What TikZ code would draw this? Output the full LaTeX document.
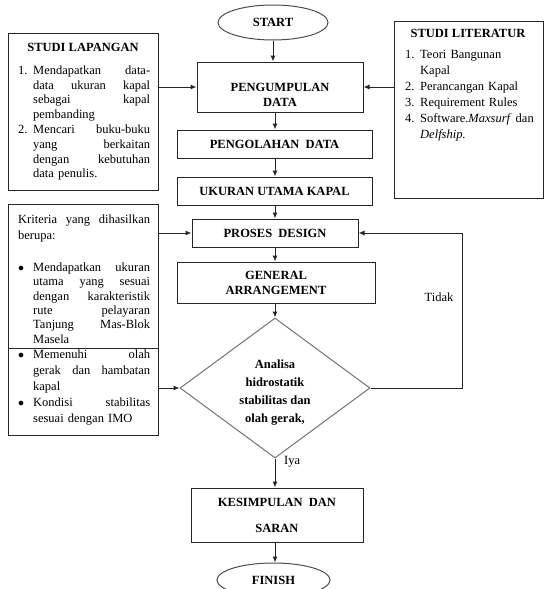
\documentclass[tikz,border=0pt]{standalone}
\usepackage{fontspec}
\setmainfont{Liberation Serif}
\usetikzlibrary{shapes.geometric,arrows.meta,calc}
% first line of a justified item (words separated by \hfill)
\newcommand{\fl}[2]{\noindent\makebox[15pt][l]{#1}\hbox to 117pt{#2}\par}
% first line of a ragged item
\newcommand{\rl}[2]{\noindent\makebox[15pt][l]{#1}#2\par}
% continuation line, justified
\newcommand{\jl}[1]{\noindent\hspace*{15pt}\hbox to 117pt{#1}\par}
% last (ragged) line
\newcommand{\lastl}[1]{\noindent\hspace*{15pt}#1\par}
\newcommand{\bodyfont}{\fontsize{12.5}{15}\selectfont}
\begin{document}
\begin{tikzpicture}[x=1pt,y=-1pt,
  box/.style={draw=black!85,line width=1pt,inner sep=0pt,align=center,
    font=\fontsize{12.5}{15}\selectfont\bfseries},
  boxtext/.style={inner sep=0pt,align=center,font=\fontsize{12.5}{15}\selectfont\bfseries},
  term/.style={draw=black!70,line width=1pt,ellipse,inner sep=0pt,
    font=\fontsize{12.5}{15}\selectfont\bfseries},
  side/.style={draw=black!85,line width=1pt,inner sep=0pt},
  body/.style={inner sep=0pt,font=\bodyfont},
  arr/.style={-{Latex[length=6pt,width=5pt]},line width=1pt,draw=black!85},
  ]
\useasboundingbox (0,0) rectangle (544,589);
\coordinate (col) at (275,0);
\coordinate (loop) at (462,0);
% main column
\node[term,minimum width=110,minimum height=35] (start) at (273,22.5) {START};
\node[box,minimum width=166,minimum height=50] (pd) at (280,87) {};
\node[boxtext] (pdtx) at (280,95) {PENGUMPULAN\\DATA};
\node[box,minimum width=195,minimum height=28] (olah) at (274.5,144) {PENGOLAHAN\ \ DATA};
\node[box,minimum width=195,minimum height=28] (uk) at (274.5,191) {UKURAN UTAMA KAPAL};
\node[box,minimum width=166,minimum height=28] (pros) at (275,233) {PROSES\ \ DESIGN};
\node[box,minimum width=198,minimum height=41] (ga) at (276,282.5) {GENERAL\\ARRANGEMENT};
\node[diamond,draw=black!55,line width=1pt,minimum width=190,minimum height=140,
  aspect=1.357,inner sep=0pt] (dia) at (275,388) {};
\node[boxtext,font=\fontsize{12.5}{18}\selectfont\bfseries] (diatx) at (275,393)
  {Analisa\\hidrostatik\\stabilitas dan\\olah gerak,};
\node[box,minimum width=172,minimum height=54,
  font=\fontsize{12.5}{26}\selectfont\bfseries] (kes) at (277,515) {KESIMPULAN\ \ DAN\\SARAN};
\node[term,minimum width=113,minimum height=34] (fin) at (273.5,580) {FINISH};
% studi lapangan
\node[side,minimum width=150,minimum height=157] (sl) at (83,111.5) {};
\node[boxtext] (slt) at (83,47) {STUDI LAPANGAN};
\node[body,anchor=north west,text width=132] (sltx) at (18,65.5)
  {\fontsize{12.5}{14.8}\selectfont
   \fl{1.}{Mendapatkan\hfill data-}
   \jl{data\hfill ukuran\hfill kapal}
   \jl{sebagai\hfill kapal}
   \lastl{pembanding}
   \fl{2.}{Mencari\hfill buku-buku}
   \jl{yang\hfill berkaitan}
   \jl{dengan\hfill kebutuhan}
   \lastl{data penulis.}};
% studi literatur
\node[side,minimum width=149,minimum height=177] (lit) at (468.5,109.5) {};
\node[boxtext] (litt) at (468,33) {STUDI LITERATUR};
\node[body,anchor=north west,text width=135] (littx) at (405,50)
  {\fontsize{12.5}{16}\selectfont
   \rl{1.}{Teori Bangunan}
   \lastl{Kapal}
   \rl{2.}{Perancangan Kapal}
   \rl{3.}{Requirement Rules}
   \rl{4.}{Software.\textit{Maxsurf} dan}
   \lastl{\textit{Delfship.}}};
% kriteria
\node[side,minimum width=150,minimum height=231] (krit) at (83,319.5) {};
\draw[line width=1pt,draw=black!85] (krit.west |- 0,348) -- (krit.east |- 0,348);
\node[body,anchor=north west,text width=132] (kr1) at (18,214.5)
  {\fontsize{12.5}{16}\selectfont
   \noindent\hbox to 132pt{Kriteria\hfill yang\hfill dihasilkan}\par
   \noindent berupa:\par
   \fontsize{12.5}{14.4}\selectfont\vspace{17.6pt}
   \fl{$\bullet$}{Mendapatkan\hfill ukuran}
   \jl{utama\hfill yang\hfill sesuai}
   \jl{dengan\hfill karakteristik}
   \jl{rute\hfill pelayaran}
   \jl{Tanjung\hfill Mas-Blok}
   \lastl{Masela}};
\node[body,anchor=north west,text width=132] (kr2) at (18,349.5)
  {\fontsize{12.5}{16}\selectfont
   \fl{$\bullet$}{Memenuhi\hfill olah}
   \jl{gerak\hfill dan\hfill hambatan}
   \lastl{kapal}
   \fl{$\bullet$}{Kondisi\hfill stabilitas}
   \lastl{sesuai dengan IMO}};
% labels
\node[body,anchor=west] (iya) at (284,462) {Iya};
\node[body] (tidak) at (439,297) {Tidak};
% connectors
\draw[arr] (start.south) -- (start.south |- pd.north);
\draw[arr] (pd.south -| col) -- (olah.north -| col);
\draw[arr] (olah.south -| col) -- (uk.north -| col);
\draw[arr] (uk.south -| col) -- (pros.north -| col);
\draw[arr] (pros.south -| col) -- (ga.north -| col);
\draw[arr] (ga.south -| col) -- (dia.north);
\draw[arr] (dia.south) -- (kes.north -| dia.south);
\draw[arr] (kes.south -| col) -- (fin.north -| col);
\draw[arr] (sl.east |- pd) -- (pd.west);
\draw[arr] (lit.west |- pd) -- (pd.east);
\draw[arr] (krit.east |- pros) -- (pros.west);
\draw[arr] (krit.east |- dia) -- (dia.west);
\draw[arr] (dia.east) -- (dia.east -| loop) -- (loop |- pros) -- (pros.east);
\end{tikzpicture}
\end{document}
